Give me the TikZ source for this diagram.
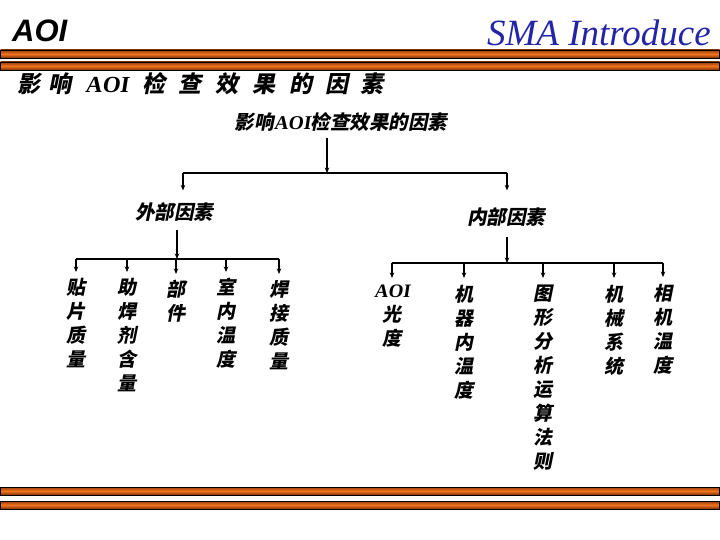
\documentclass[tikz,border=0pt]{standalone}
\usepackage{fontspec}
\setmainfont{Liberation Serif}
\newfontfamily\cjk[FakeSlant=0.2]{Noto Sans CJK SC}
\newfontfamily\headsans{Liberation Sans}
\newfontfamily\latinit[FakeSlant=0.15]{Liberation Serif}
\newcommand\aoitxt{{\latinit\bfseries AOI}}
\usetikzlibrary{arrows.meta,calc}
\definecolor{barorange}{RGB}{242,116,30}
\definecolor{bardark}{RGB}{150,62,12}
\definecolor{titleblue}{RGB}{36,36,168}
\tikzset{
  bar/.style={draw=black,line width=0.9pt,top color=bardark,bottom color=bardark!80!black,middle color=barorange},
  lbl/.style={inner sep=0pt,font=\cjk\bfseries\fontsize{19.5}{24}\selectfont},
  vlbl/.style={inner sep=0pt,anchor=north,align=center,font=\cjk\bfseries\fontsize{19}{24}\selectfont},
  wire/.style={line width=1.3pt},
  arr/.style={line width=1.3pt,-{Stealth[length=5.5pt,width=4.5pt]}},
}
\begin{document}
\begin{tikzpicture}[x=1pt,y=-1pt]
\useasboundingbox (0,0) rectangle (720,540);
\fill[white] (0,0) rectangle (720,540);
% bars
\draw[bar] (0.5,50) rectangle (719.5,58);
\draw[bar] (0.5,62) rectangle (719.5,70);
\draw[bar] (0.5,487) rectangle (719.5,495);
\draw[bar] (0.5,501) rectangle (719.5,509);
% headings
\node[anchor=west,inner sep=0pt,font=\headsans\bfseries\itshape\fontsize{31}{31}\selectfont] (aoi) at (12,31) {AOI};
\node[anchor=east,inner sep=0pt,text=titleblue,font=\itshape\fontsize{37}{37}\selectfont] (sma) at (711,33) {SMA Introduce};
\node[anchor=west,inner sep=0pt,font=\cjk\bfseries\fontsize{23}{23}\selectfont] (sub) at (17,84)
  {影\hspace{8pt}响\hspace{14pt}\aoitxt\hspace{14pt}检\hspace{13pt}查\hspace{14pt}效\hspace{14pt}果\hspace{14pt}的\hspace{13pt}因\hspace{12pt}素};
% tree nodes
\node[lbl] (root) at (341,122) {影响\aoitxt 检查效果的因素};
\node[lbl] (ext) at (174,212) {外部因素};
\node[lbl] (int) at (506,217) {内部因素};
\coordinate (j0) at (327,173);
\coordinate (jL) at (183,173);
\coordinate (jR) at (507,173);
\coordinate (jE) at (177,259);
\coordinate (jI) at (507,263);
% external leaves
\node[vlbl] (e1) at (76,278) {贴\\片\\质\\量};
\node[vlbl] (e2) at (127,278) {助\\焊\\剂\\含\\量};
\node[vlbl] (e3) at (176,280) {部\\件};
\node[vlbl] (e4) at (226,278) {室\\内\\温\\度};
\node[vlbl] (e5) at (279,280) {焊\\接\\质\\量};
% internal leaves
\node[vlbl] (i1) at (392,285) {\aoitxt\\光\\度};
\node[vlbl] (i2) at (464,285) {机\\器\\内\\温\\度};
\node[vlbl] (i3) at (543,285) {图\\形\\分\\析\\运\\算\\法\\则};
\node[vlbl] (i4) at (614,285) {机\\械\\系\\统};
\node[vlbl] (i5) at (663,284) {相\\机\\温\\度};
% connectors: level 1
\draw[arr] ($(root.south -| j0)+(0,6)$) -- (j0);
\draw[wire] (jL) -- (jR);
\draw[arr] (jL) -- ($(ext.north -| jL)+(0,-12)$);
\draw[arr] (jR) -- ($(int.north -| jR)+(0,-17)$);
% external branch
\draw[arr] ($(ext.south -| jE)+(0,8)$) -- (jE);
\draw[wire] (e1 |- jE) -- (e5 |- jE);
\foreach \n in {e1,e2,e3,e4,e5}
  \draw[arr] (\n |- jE) -- ($(\n.north)+(0,-6)$);
% internal branch
\draw[arr] ($(int.south -| jI)+(0,10)$) -- (jI);
\draw[wire] (i1 |- jI) -- (i5 |- jI);
\foreach \n in {i1,i2,i3,i4,i5}
  \draw[arr] (\n |- jI) -- ($(\n.north)+(0,-7)$);
\end{tikzpicture}
\end{document}
